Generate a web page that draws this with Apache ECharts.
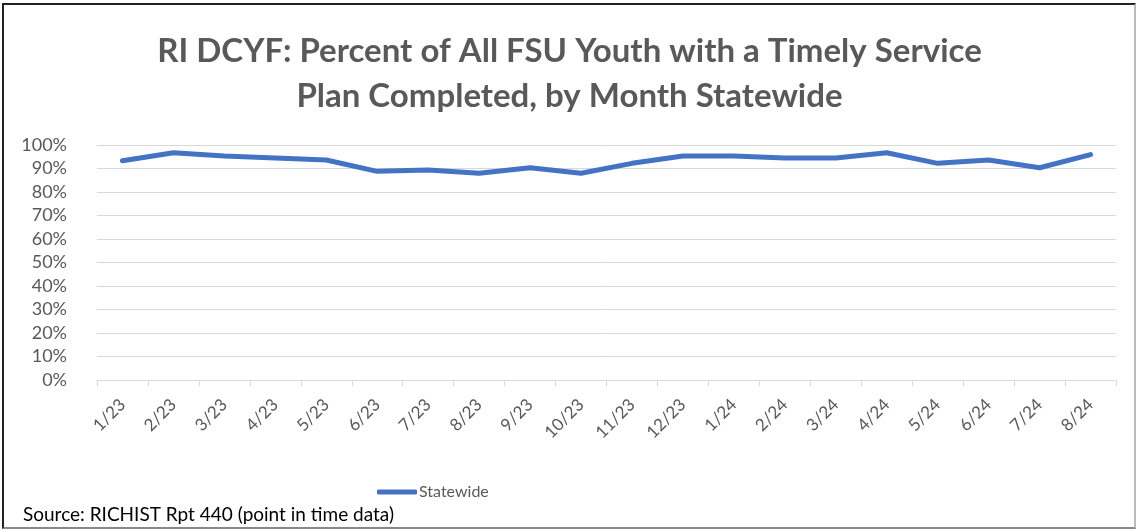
<!DOCTYPE html>
<html>
<head>
<meta charset="utf-8">
<script src="https://cdn.jsdelivr.net/npm/echarts@6/dist/echarts.min.js"></script>
<style>
  html, body { margin: 0; padding: 0; background: #fff; }
  #frame {
    position: absolute; left: 2px; top: 3px; width: 1130px; height: 522px;
    border-left: 2px solid #222; border-top: 2px solid #222;
    border-right: 2px solid #bbb; border-bottom: 2px solid #888;
  }
  #chart { position: absolute; left: 0; top: 0; width: 1139px; height: 529px; }
</style>
</head>
<body>
<div id="frame"></div>
<div id="chart"></div>
<script>
// months shown on the x axis
const months = ['1/23', '2/23', '3/23', '4/23', '5/23', '6/23', '7/23', '8/23', '9/23', '10/23',
  '11/23', '12/23', '1/24', '2/24', '3/24', '4/24', '5/24', '6/24', '7/24', '8/24'];
// percent of youth with a timely service plan
const statewide = [93.3, 96.7, 95.3, 94.5, 93.6, 88.8, 89.4, 88.0, 90.3, 88.0,
  92.2, 95.3, 95.3, 94.5, 94.5, 96.7, 92.2, 93.6, 90.3, 95.9];

const font = 'Lato, "Open Sans", sans-serif';
const chart = echarts.init(document.getElementById('chart'));

chart.setOption({
  backgroundColor: 'transparent',
  textStyle: { fontFamily: font },
  title: [
    {
      text: 'RI DCYF: Percent of All FSU Youth with a Timely Service\nPlan Completed, by Month Statewide',
      left: 'center', top: 24,
      textStyle: { fontFamily: font, fontSize: 33, fontWeight: 'bold', color: '#595959', lineHeight: 45 }
    },
    {
      text: 'Source: RICHIST Rpt 440 (point in time data)',
      left: 18, top: 500,
      textStyle: { fontFamily: font, fontSize: 19, fontWeight: 'normal', color: '#000' }
    }
  ],
  legend: {
    data: ['Statewide'],
    left: 372, top: 479,
    itemWidth: 40, itemHeight: 5, itemGap: 4,
    icon: 'roundRect',
    textStyle: { fontFamily: font, fontSize: 16, color: '#595959', padding: [0, 0, 0, -3] }
  },
  grid: { left: 97, right: 23, top: 145, bottom: 149 },
  xAxis: {
    type: 'category',
    data: months,
    boundaryGap: true,
    axisLine: { lineStyle: { color: '#d9d9d9', width: 1 } },
    axisTick: { show: true, length: 6, lineStyle: { color: '#d9d9d9' } },
    axisLabel: { rotate: 45, color: '#595959', fontSize: 17, fontFamily: font, margin: 22 }
  },
  yAxis: {
    type: 'value',
    min: 0, max: 100, interval: 10,
    axisLine: { show: false },
    axisTick: { show: false },
    splitLine: { lineStyle: { color: '#d9d9d9', width: 1 } },
    axisLabel: { formatter: '{value}%', color: '#595959', fontSize: 18, fontFamily: font, margin: 30 }
  },
  series: [{
    name: 'Statewide',
    type: 'line',
    data: statewide,
    symbol: 'none',
    lineStyle: { color: '#4472C4', width: 5, cap: 'round', join: 'round' },
    itemStyle: { color: '#4472C4' }
  }]
});
</script>
</body>
</html>
